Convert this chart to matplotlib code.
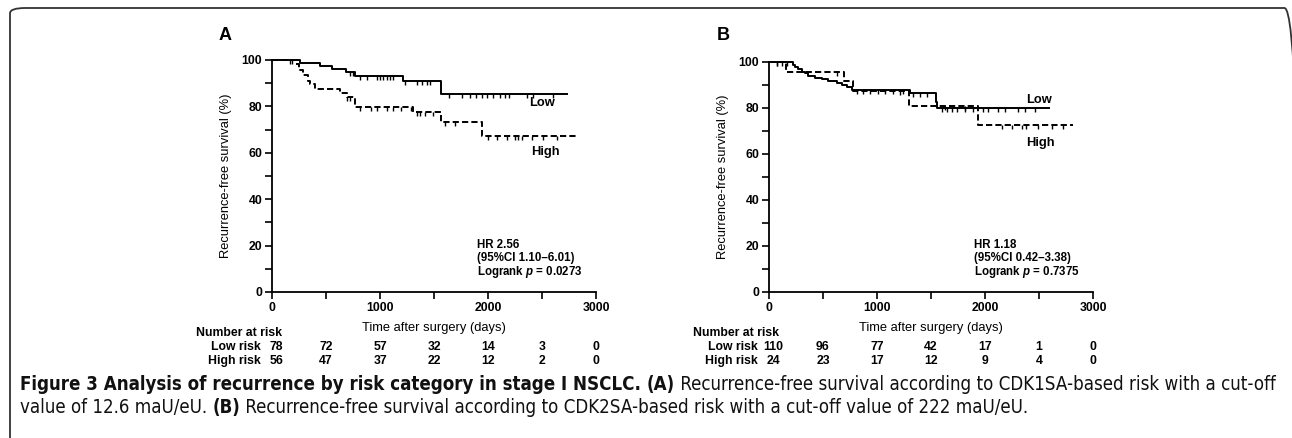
import matplotlib
matplotlib.use("Agg")
import matplotlib.pyplot as plt
from matplotlib import font_manager
from matplotlib.font_manager import FontProperties
from matplotlib.patches import FancyBboxPatch
from matplotlib.transforms import blended_transform_factory

# ---------------- data ----------------
# Panel A (CDK1SA-based risk)
A_low_t = [0, 262, 446, 554, 683, 769, 1216, 1562, 2728]
A_low_s = [100, 98.9, 97.4, 96.0, 94.7, 93.2, 91.1, 85.3, 85.3]
A_low_cens = [167, 722, 750, 815, 877, 969, 1000, 1030, 1062, 1092, 1123,
              1231, 1340, 1386, 1432, 1463, 1640, 1755, 1830, 1885, 1940,
              1995, 2050, 2110, 2160, 2190, 2360, 2420, 2600]
A_high_t = [0, 222, 253, 290, 336, 352, 398, 630, 691, 769, 1308, 1562, 1941, 2821]
A_high_s = [100, 98.3, 95.7, 93.5, 91.1, 89.5, 87.4, 85.9, 84.2, 79.6, 77.7, 73.4, 67.4, 67.4]
A_high_cens = [182, 691, 722, 815, 914, 969, 1062, 1117, 1194, 1287, 1340, 1370,
               1417, 1494, 1602, 1694, 1996, 2080, 2173, 2250, 2281, 2313, 2404,
               2512, 2636]

# Panel B (CDK2SA-based risk)
B_low_t = [0, 225, 241, 272, 302, 333, 364, 426, 488, 549, 627, 673, 719, 765,
           1306, 1546, 1558, 2593]
B_low_s = [100, 98.7, 97.9, 97.0, 95.8, 95.1, 93.9, 93.2, 92.5, 91.7, 91.0,
           90.0, 89.0, 87.8, 86.7, 82.7, 80.1, 80.1]
B_low_cens = [71, 117, 164, 812, 873, 935, 1012, 1074, 1151, 1244, 1336, 1398,
              1460, 1598, 1645, 1691, 1738, 1815, 1892, 1985, 2031, 2124, 2185,
              2309, 2370, 2463]
B_high_t = [0, 154, 694, 778, 1296, 1938, 2815]
B_high_s = [100, 95.8, 91.7, 87.5, 80.9, 72.5, 72.5]
B_high_cens = [71, 627, 1213, 1630, 1815, 2154, 2247, 2340, 2380, 2494, 2617, 2725]

risk_times = [0, 500, 1000, 1500, 2000, 2500, 3000]
A_low_risk = [78, 72, 57, 32, 14, 3, 0]
A_high_risk = [56, 47, 37, 22, 12, 2, 0]
B_low_risk = [110, 96, 77, 42, 17, 1, 0]
B_high_risk = [24, 23, 17, 12, 9, 4, 0]

A_stats = ["HR 2.56", "(95%CI 1.10\u20136.01)", "Logrank $p$ = 0.0273"]
B_stats = ["HR 1.18", "(95%CI 0.42\u20133.38)", "Logrank $p$ = 0.7375"]

caption_parts_1 = [("Figure 3 Analysis of recurrence by risk category in stage I NSCLC. ", "bold"),
                   ("(A)", "bold"),
                   (" Recurrence-free survival according to CDK1SA-based risk with a cut-off", "normal")]
caption_parts_2 = [("value of 12.6 maU/eU. ", "normal"),
                   ("(B)", "bold"),
                   (" Recurrence-free survival according to CDK2SA-based risk with a cut-off value of 222 maU/eU.", "normal")]

# ---------------- fonts ----------------
ttf = font_manager.fontManager.ttflist
names = {f.name for f in ttf}
MAIN = "Liberation Sans" if "Liberation Sans" in names else "DejaVu Sans"


def wnum(w):
    if isinstance(w, (int, float)):
        return int(w)
    return font_manager.weight_dict.get(str(w).lower(), 400)


def is_condensed(f):
    st = str(f.stretch).lower()
    return ("condensed" in st or "narrow" in st or "Condensed" in f.name
            or "Narrow" in f.name or st in ("semi-condensed",))


cond = [f for f in ttf if is_condensed(f) and f.style == "normal"]


def pick(target, lo, hi):
    cands = [f for f in cond if lo <= wnum(f.weight) <= hi]
    if not cands:
        return None
    cands.sort(key=lambda f: abs(wnum(f.weight) - target))
    return cands[0]


reg_entry = pick(400, 300, 500)
bold_entry = None
if reg_entry is not None:
    same = [f for f in cond if f.name == reg_entry.name and wnum(f.weight) >= 600
            and f.stretch == reg_entry.stretch]
    if same:
        same.sort(key=lambda f: abs(wnum(f.weight) - 700))
        bold_entry = same[0]
if bold_entry is None:
    bold_entry = pick(700, 600, 800)

if reg_entry is not None:
    FP_REG = FontProperties(fname=reg_entry.fname)
else:
    FP_REG = FontProperties(family=MAIN, weight="normal")
if bold_entry is not None and reg_entry is not None:
    FP_BOLD = FontProperties(fname=bold_entry.fname)
else:
    FP_BOLD = FontProperties(family=MAIN, weight="bold")

plt.rcParams['font.family'] = [MAIN, 'DejaVu Sans']
plt.rcParams['mathtext.fontset'] = 'custom'
plt.rcParams['mathtext.it'] = MAIN + ':italic:bold'
plt.rcParams['mathtext.rm'] = MAIN + ':bold'

W, H = 1292, 438
fig = plt.figure(figsize=(W / 100, H / 100), dpi=100)


def fx(px):
    return px / W


def fy(py):
    return 1 - py / H


# border with rounded corners (right side runs off the image)
border = FancyBboxPatch((fx(10), fy(470)), fx(1300) - fx(10), fy(8) - fy(470),
                        boxstyle="round,pad=0,rounding_size=0.012",
                        transform=fig.transFigure, fill=False, lw=1.3,
                        ec="#333333", clip_on=False)
fig.patches.append(border)

LW = 1.4
DASH = (0, (3.2, 1.6))
TXT = 8.8


def panel(left_px, top_px, letter, letter_px,
          low_t, low_s, low_c, high_t, high_s, high_c,
          low_risk, high_risk, stats, low_lab, high_lab):
    x0, x1 = left_px, left_px + 324
    y0, y1 = top_px, 292
    ax = fig.add_axes([fx(x0), fy(y1), fx(x1) - fx(x0), fy(y0) - fy(y1)])
    ax.set_xlim(0, 3000)
    ax.set_ylim(0, 100)
    for s in ["top", "right"]:
        ax.spines[s].set_visible(False)
    for s in ["left", "bottom"]:
        ax.spines[s].set_linewidth(1.3)
    ax.set_xticks([0, 1000, 2000, 3000])
    ax.set_xticks([500, 1500, 2500], minor=True)
    ax.set_yticks([0, 20, 40, 60, 80, 100])
    ax.set_yticks([10, 30, 50, 70, 90], minor=True)
    ax.tick_params(which="both", direction="out", length=5, width=1.2,
                   labelsize=TXT, pad=2)
    for lab in ax.get_xticklabels() + ax.get_yticklabels():
        lab.set_fontweight("bold")

    ax.step(low_t, low_s, where="post", color="black", lw=LW, clip_on=False)
    ax.step(high_t, high_s, where="post", color="black", lw=LW,
            linestyle=DASH, clip_on=False)

    def lvl(ts, ss, t):
        v = ss[0]
        for a, b in zip(ts, ss):
            if a <= t:
                v = b
        return v

    ax.plot(low_c, [lvl(low_t, low_s, c) for c in low_c], linestyle="none",
            marker=3, markersize=3, mew=1.0, color="black", clip_on=False)
    ax.plot(high_c, [lvl(high_t, high_s, c) for c in high_c], linestyle="none",
            marker=3, markersize=3, mew=1.0, color="black", clip_on=False)

    ax.text(low_lab[0], low_lab[1], "Low", ha="center", va="center",
            fontsize=TXT + 0.5, fontweight="bold")
    ax.text(high_lab[0], high_lab[1], "High", ha="center", va="center",
            fontsize=TXT + 0.5, fontweight="bold")

    for i, (s, yy) in enumerate(zip(stats, [20.3, 14.6, 8.6])):
        ax.text(1895, yy, s, ha="left", va="center", fontsize=TXT - 0.5,
                fontweight="bold")

    ax.set_ylabel("Recurrence-free survival (%)", fontsize=9.3)
    ax.yaxis.set_label_coords(-40 / 324.0, 0.5)
    ax.set_xlabel("Time after surgery (days)", fontsize=9.3)
    ax.xaxis.set_label_coords(0.5, -(322 - 292) / (y1 - y0))

    tr = blended_transform_factory(ax.transData, fig.transFigure)
    ax.text(-700, fy(333), "Number at risk", transform=tr, ha="left",
            va="center", fontsize=TXT, fontweight="bold")
    ax.text(-100, fy(347), "Low risk", transform=tr, ha="right",
            va="center", fontsize=TXT, fontweight="bold")
    ax.text(-100, fy(361), "High risk", transform=tr, ha="right",
            va="center", fontsize=TXT, fontweight="bold")
    for i, t in enumerate(risk_times):
        xt = t + (40 if i == 0 else 0)
        ax.text(xt, fy(347), str(low_risk[i]), transform=tr, ha="center",
                va="center", fontsize=TXT, fontweight="bold")
        ax.text(xt, fy(361), str(high_risk[i]), transform=tr, ha="center",
                va="center", fontsize=TXT, fontweight="bold")

    fig.text(fx(letter_px[0]), fy(letter_px[1]), letter, ha="center",
             va="center", fontsize=13, fontweight="bold")
    return ax


panel(272, 60, "A", (225, 35), A_low_t, A_low_s, A_low_cens,
      A_high_t, A_high_s, A_high_cens, A_low_risk, A_high_risk, A_stats,
      (2500, 81.5), (2530, 60.3))
panel(769, 62, "B", (723, 35), B_low_t, B_low_s, B_low_cens,
      B_high_t, B_high_s, B_high_cens, B_low_risk, B_high_risk, B_stats,
      (2500, 83.5), (2510, 64.8))

# caption (mixed weights, laid out piece by piece)
fig.canvas.draw()
renderer = fig.canvas.get_renderer()


def caption_line(parts, x_px, base_px, size):
    x = x_px
    objs = []
    for txt, wt in parts:
        fp = (FP_BOLD if wt == "bold" else FP_REG).copy()
        fp.set_size(size)
        t = fig.text(fx(x), fy(base_px), txt, ha="left", va="baseline",
                     fontproperties=fp, color="#111111")
        bb = t.get_window_extent(renderer)
        x += bb.width
        objs.append(t)
    return x, objs


CAP_SIZE = 11.5
end1, objs = caption_line(caption_parts_1, 20, 390, CAP_SIZE)
target = 1282 - 20
scale = target / (end1 - 20)
for o in objs:
    o.remove()
size = CAP_SIZE * min(scale, 1.25)
caption_line(caption_parts_1, 20, 390, size)
caption_line(caption_parts_2, 20, 413, size)

fig.savefig("out.png", dpi=100)
